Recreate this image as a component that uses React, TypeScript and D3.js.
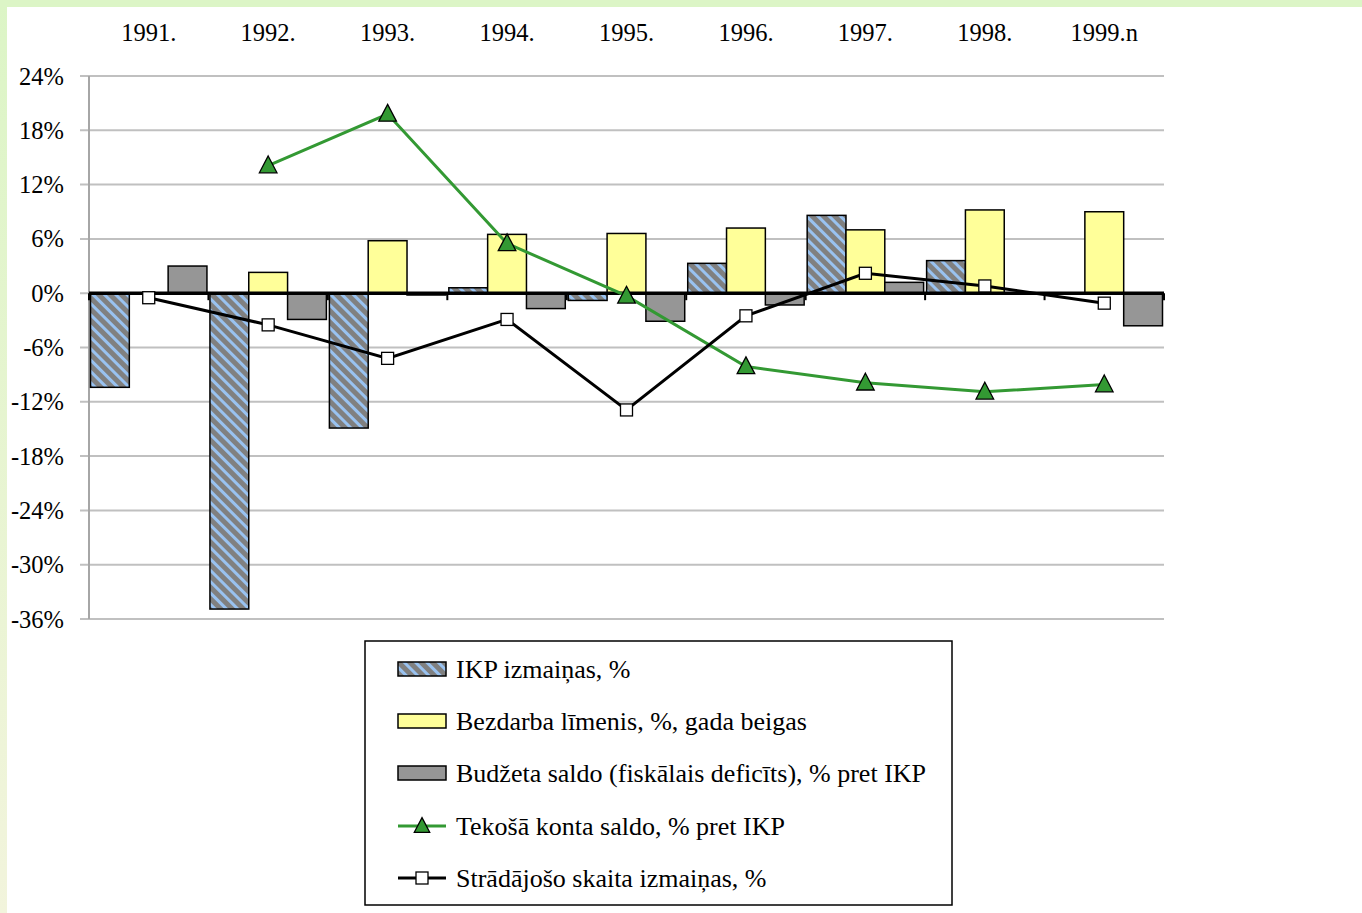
import React from "react";
import * as d3 from "d3";

const years = ["1991.", "1992.", "1993.", "1994.", "1995.", "1996.", "1997.", "1998.", "1999.n"];
const gdpChange: (number | null)[] = [-10.4, -34.9, -14.9, 0.6, -0.8, 3.3, 8.6, 3.6, null];
const unemployment: (number | null)[] = [null, 2.3, 5.8, 6.5, 6.6, 7.2, 7.0, 9.2, 9.0];
const budget: (number | null)[] = [3.0, -2.9, -0.2, -1.7, -3.1, -1.3, 1.2, null, -3.6];
const currentAccount: (number | null)[] = [null, 14.1, 19.8, 5.5, -0.3, -8.1, -9.9, -10.9, -10.1];
const employment: (number | null)[] = [-0.5, -3.5, -7.2, -2.9, -12.9, -2.5, 2.2, 0.8, -1.1];
const yTicks = [24, 18, 12, 6, 0, -6, -12, -18, -24, -30, -36];

const legendLabels = [
  "IKP izmaiņas, %",
  "Bezdarba līmenis, %, gada beigas",
  "Budžeta saldo (fiskālais deficīts), % pret IKP",
  "Tekošā konta saldo, % pret IKP",
  "Strādājošo skaita izmaiņas, %",
];

const W = 1362;
const H = 913;
const plotL = 89;
const plotR = 1164;
const plotT = 76;
const plotB = 619;
const FONT = "'Liberation Serif', 'Times New Roman', serif";

export default function App() {
  const x = d3.scaleBand<string>().domain(years).range([plotL, plotR]).padding(0);
  const y = d3.scaleLinear().domain([-36, 24]).range([plotB, plotT]);
  const bw = x.bandwidth();
  const inner = d3
    .scaleBand<number>()
    .domain([0, 1, 2])
    .range([1.5, bw - 1.5])
    .padding(0);
  const barSeries = [
    { vals: gdpChange, fill: "url(#hatch)" },
    { vals: unemployment, fill: "#ffff99" },
    { vals: budget, fill: "#969696" },
  ];
  const cx = (i: number) => (x(years[i]) as number) + bw / 2;
  const lineGen = d3
    .line<[number, number | null]>()
    .defined((d) => d[1] !== null)
    .x((d) => cx(d[0]))
    .y((d) => y(d[1] as number));
  const caPts = currentAccount.map((v, i) => [i, v] as [number, number | null]);
  const emPts = employment.map((v, i) => [i, v] as [number, number | null]);
  const tri = (px: number, py: number, s: number) =>
    `M${px},${py - s * 0.6}L${px + s * 0.55},${py + s * 0.45}L${px - s * 0.55},${py + s * 0.45}Z`;

  const legX = 365;
  const legY = 641;
  const legW = 587;
  const legH = 264;
  const rowY = [669, 721, 773, 826, 878];

  return (
    <div style={{ position: "fixed", left: 0, top: 0 }}>
      <svg width={W} height={H} style={{ display: "block" }}>
        <defs>
          <pattern id="hatch" patternUnits="userSpaceOnUse" width="8" height="8" patternTransform="rotate(-45)">
            <rect width="8" height="8" fill="#808080" />
            <rect x="0" y="0" width="3" height="8" fill="#99c2f0" />
          </pattern>
          <linearGradient id="edge" x1="0" y1="0" x2="0" y2="1">
            <stop offset="0" stopColor="#dcf5c6" />
            <stop offset="1" stopColor="#f2f4dc" />
          </linearGradient>
        </defs>
        <rect x={0} y={0} width={W} height={H} fill="#ffffff" />
        <rect x={0} y={0} width={7} height={H} fill="url(#edge)" />
        <rect x={0} y={0} width={W} height={7} fill="#dcf5c6" />

        {/* gridlines */}
        {yTicks.map((t) => (
          <line key={t} x1={plotL - 9} x2={plotR} y1={y(t)} y2={y(t)} stroke="#c0c0c0" strokeWidth={2} />
        ))}
        <line x1={plotL} x2={plotL} y1={plotT} y2={plotB} stroke="#a6a6a6" strokeWidth={2} />

        {/* y labels */}
        {yTicks.map((t) => (
          <text key={t} x={64} y={y(t)} dy="0.35em" textAnchor="end" fontFamily={FONT} fontSize={24.5} fill="#000">
            {t}%
          </text>
        ))}
        {/* x labels */}
        {years.map((yr) => (
          <text key={yr} x={(x(yr) as number) + bw / 2} y={41} textAnchor="middle" fontFamily={FONT} fontSize={24.5} fill="#000">
            {yr}
          </text>
        ))}

        {/* bars */}
        {barSeries.map((s, si) =>
          s.vals.map((v, i) =>
            v === null ? null : (
              <rect
                key={`${si}-${i}`}
                x={(x(years[i]) as number) + (inner(si) as number)}
                width={inner.bandwidth()}
                y={Math.min(y(v), y(0))}
                height={Math.abs(y(v) - y(0))}
                fill={s.fill}
                stroke="#000"
                strokeWidth={1.5}
              />
            )
          )
        )}

        {/* x axis at zero */}
        <line x1={plotL} x2={plotR} y1={y(0)} y2={y(0)} stroke="#000" strokeWidth={3.5} />
        {years.map((yr) => (
          <line key={yr} x1={x(yr) as number} x2={x(yr) as number} y1={y(0)} y2={y(0) + 7} stroke="#000" strokeWidth={2} />
        ))}
        <line x1={plotR} x2={plotR} y1={y(0)} y2={y(0) + 7} stroke="#000" strokeWidth={2} />

        {/* lines */}
        <path d={lineGen(caPts) || ""} fill="none" stroke="#339933" strokeWidth={3} />
        <path d={lineGen(emPts) || ""} fill="none" stroke="#000" strokeWidth={3} />
        {caPts.map(([i, v]) =>
          v === null ? null : <path key={i} d={tri(cx(i), y(v), 16)} fill="#339933" stroke="#000" strokeWidth={1.3} />
        )}
        {emPts.map(([i, v]) =>
          v === null ? null : (
            <rect key={i} x={cx(i) - 6} y={y(v as number) - 6} width={12} height={12} fill="#fff" stroke="#000" strokeWidth={1.3} />
          )
        )}

        {/* legend */}
        <rect x={legX} y={legY} width={legW} height={legH} fill="#fff" stroke="#000" strokeWidth={1.5} />
        {legendLabels.map((lab, k) => {
          const ry = rowY[k];
          let sw: React.ReactNode = null;
          if (k < 3) {
            sw = (
              <rect x={398} y={ry - 7} width={48} height={14} fill={barSeries[k].fill} stroke="#000" strokeWidth={1.5} />
            );
          } else if (k === 3) {
            sw = (
              <g>
                <line x1={398} x2={446} y1={ry} y2={ry} stroke="#339933" strokeWidth={3} />
                <path d={tri(422, ry, 14)} fill="#339933" stroke="#000" strokeWidth={1.3} />
              </g>
            );
          } else {
            sw = (
              <g>
                <line x1={398} x2={446} y1={ry} y2={ry} stroke="#000" strokeWidth={3} />
                <rect x={416} y={ry - 6} width={12} height={12} fill="#fff" stroke="#000" strokeWidth={1.3} />
              </g>
            );
          }
          return (
            <g key={lab}>
              {sw}
              <text x={456} y={ry} dy="0.35em" fontFamily={FONT} fontSize={26} fill="#000">
                {lab}
              </text>
            </g>
          );
        })}
      </svg>
    </div>
  );
}
